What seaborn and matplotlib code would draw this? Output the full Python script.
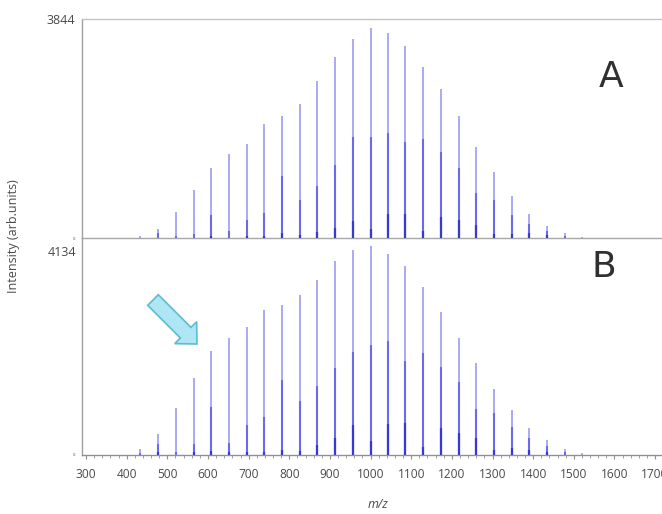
import numpy as np
import pandas as pd
import matplotlib
matplotlib.use("Agg")
import matplotlib.pyplot as plt
import seaborn as sns
from matplotlib.patches import FancyArrow
from matplotlib.transforms import IdentityTransform
from matplotlib.ticker import MultipleLocator

# ---------------- data ----------------
mz = [433, 478, 521, 565, 608, 652, 695, 739, 782, 826, 868, 913, 956, 1000,
      1043, 1085, 1130, 1174, 1217, 1260, 1304, 1347, 1391, 1434, 1478, 1520]

a_tall = [30, 165, 457, 838, 1220, 1466, 1642, 1994, 2145, 2350, 2755, 3171, 3488, 3686,
          3593, 3375, 3000, 2614, 2139, 1589, 1150, 733, 417, 206, 88, 18]
a_mid = [0, 88, 40, 77, 399, 123, 323, 440, 1085, 663, 914, 1278, 1765, 1776,
         1835, 1688, 1730, 1512, 1237, 798, 675, 411, 241, 118, 40, 0]
a_low = [0, 0, 0, 0, 40, 0, 30, 40, 83, 50, 105, 183, 294, 165,
         429, 429, 130, 369, 311, 236, 70, 77, 88, 50, 0, 0]

b_tall = [109, 394, 889, 1461, 1981, 2235, 2444, 2762, 2863, 3042, 3340, 3690, 3900, 3982,
          3829, 3601, 3195, 2730, 2235, 1747, 1252, 857, 520, 286, 114, 32]
b_mid = [30, 204, 57, 204, 920, 234, 571, 718, 1435, 1023, 1309, 1657, 1956, 2090,
         2166, 1791, 1937, 1682, 1397, 871, 794, 528, 318, 171, 63, 0]
b_low = [0, 60, 0, 60, 80, 60, 60, 60, 101, 70, 196, 324, 577, 261,
         596, 604, 152, 508, 413, 318, 95, 127, 95, 50, 0, 0]

a_max = 3844
b_max = 4134
x_ticks = list(range(300, 1800, 100))
panel_labels = ["A", "B"]

# ---------------- styling ----------------
sns.set_theme(style="white")
plt.rcParams["font.family"] = ["Open Sans", "DejaVu Sans"]

W, H = 662, 514
fig = plt.figure(figsize=(W / 100, H / 100), dpi=100)
axA = fig.add_axes([82 / W, 1 - 238 / H, 580 / W, 219 / H])
axB = fig.add_axes([82 / W, 1 - 455 / H, 580 / W, 217 / H], sharex=axA)

light = "#a9a9f6"
mid = "#6a6aea"
dark = "#3838d2"
txt = "#4a4a4a"

df = pd.DataFrame({"mz": mz, "a_tall": a_tall, "a_mid": a_mid, "a_low": a_low,
                   "b_tall": b_tall, "b_mid": b_mid, "b_low": b_low})

for ax, pre, top in [(axA, "a", a_max), (axB, "b", b_max)]:
    ax.vlines(df["mz"], 0, df[pre + "_tall"], color=light, lw=1.4, zorder=2)
    ax.vlines(df["mz"], 0, df[pre + "_mid"], color=mid, lw=1.5, zorder=3)
    ax.vlines(df["mz"], 0, df[pre + "_low"], color=dark, lw=1.6, zorder=4)
    ax.set_xlim(290, 1717)
    ax.set_ylim(0, top)
    ax.set_facecolor("none")
    sns.despine(ax=ax, right=True, top=False)
    ax.spines["left"].set_color("#a0a0a0")
    ax.spines["top"].set_color("#c4c4c4")
    ax.spines["bottom"].set_color("#a8a8a8")
    for s in ["left", "top", "bottom"]:
        ax.spines[s].set_linewidth(1.0)

# Panel A ticks
axA.set_yticks([0, a_max])
axA.set_yticklabels(["0", str(a_max)])
axA.tick_params(axis="y", length=0, pad=5, colors=txt)
ylabs = axA.get_yticklabels()
ylabs[0].set_fontsize(3)
ylabs[1].set_fontsize(9)
axA.tick_params(axis="x", bottom=False, labelbottom=False)

# Panel B ticks
axB.spines["top"].set_visible(False)
axB.set_yticks([0])
axB.set_yticklabels(["0"])
axB.tick_params(axis="y", length=0, pad=5, colors=txt, labelsize=3)
axB.annotate(str(b_max), xy=(0, 1), xycoords="axes fraction", xytext=(-6, -15),
             textcoords="offset pixels", ha="right", va="center", fontsize=9, color=txt)
axB.set_xticks(x_ticks)
axB.set_xticklabels([str(t) for t in x_ticks])
axB.xaxis.set_minor_locator(MultipleLocator(20))
axB.tick_params(axis="x", which="major", bottom=True, length=3, width=0.8,
                color="#909090", labelsize=8.6, labelcolor=txt, pad=6)
axB.tick_params(axis="x", which="minor", bottom=True, length=2, width=0.6, color="#909090")
axB.spines["bottom"].set_color("#909090")

# Panel letters
fig.text(611 / W, 1 - 77 / H, panel_labels[0], fontsize=26, color="#303030",
         ha="center", va="center", family="DejaVu Sans")
fig.text(604 / W, 1 - 267 / H, panel_labels[1], fontsize=26, color="#303030",
         ha="center", va="center", family="DejaVu Sans")

# Axis labels
fig.text(378 / W, 1 - 505 / H, "m/z", style="italic", fontsize=9, color=txt,
         ha="center", va="center")
fig.text(14 / W, 1 - 236 / H, "Intensity (arb.units)", rotation=90, fontsize=9,
         color=txt, ha="center", va="center")

# Arrow (display pixel coordinates, y up)
arrow = FancyArrow(153, H - 300, 44, -44, width=15, head_width=31, head_length=16,
                   length_includes_head=True, transform=IdentityTransform(),
                   facecolor="#aee6f3", edgecolor="#5bbcd4", linewidth=1.2, zorder=10)
fig.patches.append(arrow)

fig.savefig("out.png", dpi=100, facecolor="white")
